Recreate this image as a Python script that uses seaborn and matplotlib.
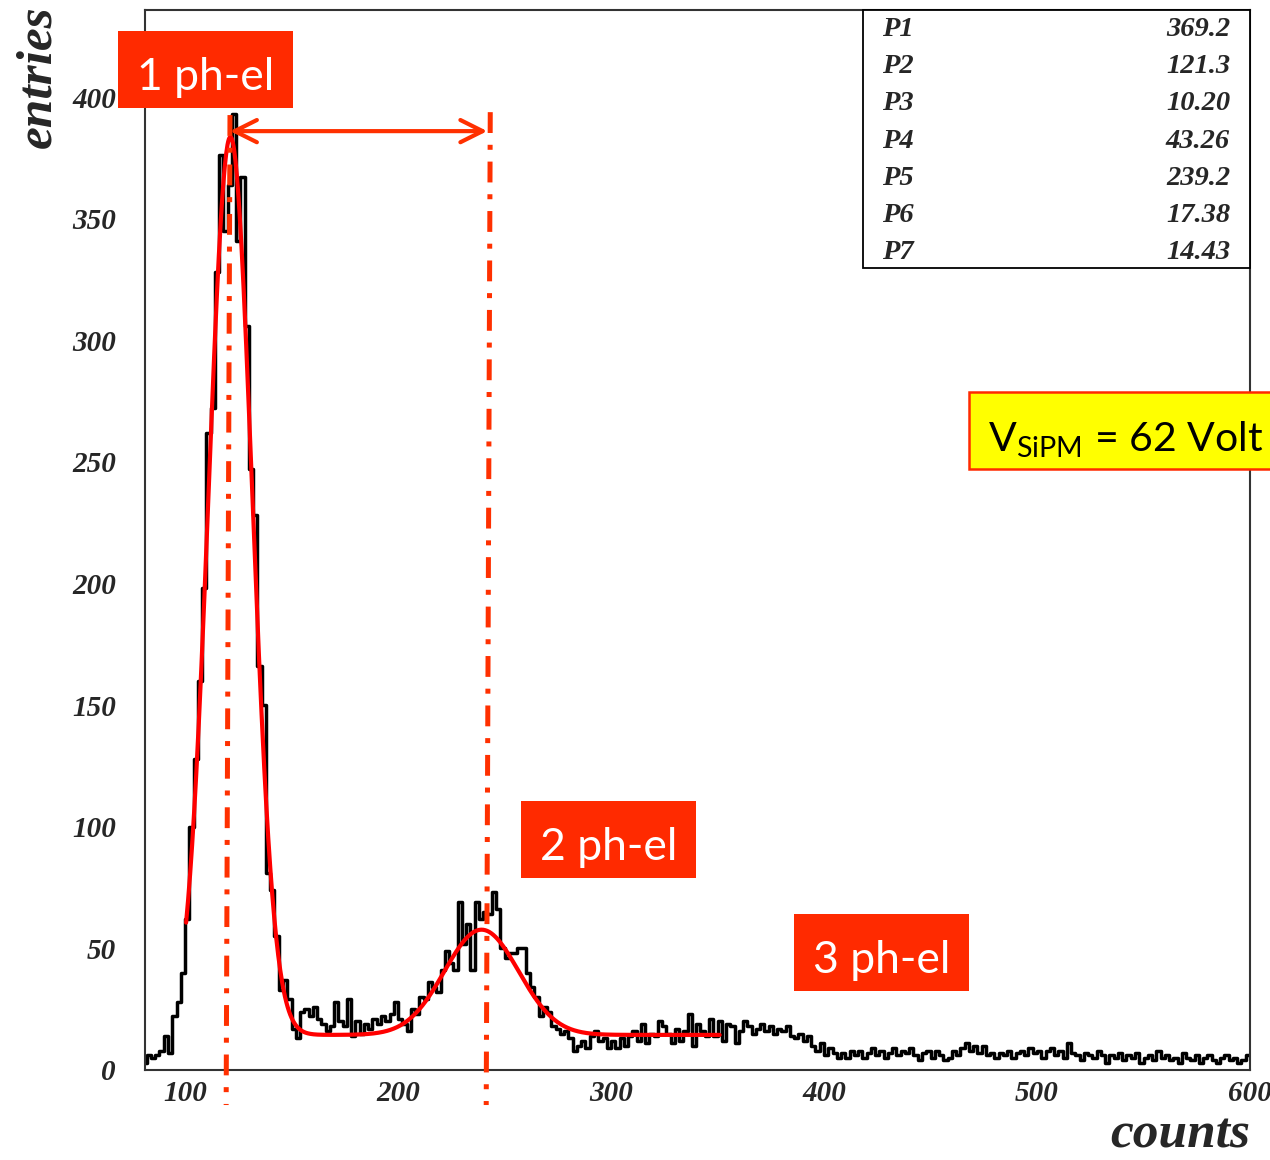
import numpy as np
import pandas as pd
import matplotlib
matplotlib.use("Agg")
import matplotlib.pyplot as plt
from matplotlib.patches import Rectangle, FancyArrowPatch
from matplotlib.font_manager import FontProperties
import seaborn as sns

# ---------------- data ----------------
bin_start = 80
bin_width = 2
counts_per_bin = [
    3, 6, 5, 6, 8, 14, 7, 22, 28, 40,
    62, 100, 128, 160, 198, 262, 272, 328, 376, 345,
    364, 393, 341, 367, 306, 247, 228, 166, 150, 81,
    74, 55, 33, 37, 29, 17, 13, 24, 25, 22,
    26, 21, 19, 16, 18, 28, 20, 18, 29, 14,
    20, 15, 19, 17, 21, 19, 22, 20, 23, 28,
    21, 19, 16, 25, 23, 30, 29, 36, 34, 32,
    41, 49, 44, 41, 69, 52, 60, 41, 69, 62,
    65, 64, 73, 66, 50, 46, 48, 48, 50, 50,
    40, 34, 30, 22, 26, 24, 18, 17, 15, 16,
    13, 8, 10, 12, 9, 14, 16, 12, 13, 9,
    12, 9, 13, 10, 14, 16, 12, 19, 11, 15,
    14, 20, 18, 15, 11, 17, 12, 16, 23, 10,
    19, 16, 14, 21, 14, 20, 12, 19, 18, 11,
    16, 20, 18, 15, 17, 19, 16, 18, 15, 17,
    16, 18, 14, 13, 15, 12, 14, 10, 8, 11,
    6, 9, 7, 5, 7, 5, 8, 6, 8, 5,
    7, 9, 6, 8, 5, 7, 9, 6, 8, 7,
    9, 6, 4, 7, 8, 5, 8, 6, 4, 5,
    8, 6, 9, 11, 8, 10, 7, 10, 6, 7,
    5, 7, 6, 8, 5, 7, 8, 6, 9, 7,
    8, 5, 8, 9, 6, 8, 5, 11, 7, 6,
    4, 7, 6, 5, 8, 6, 3, 6, 5, 7,
    4, 6, 5, 7, 3, 5, 6, 4, 8, 5,
    6, 4, 5, 3, 7, 5, 4, 6, 3, 5,
    6, 4, 3, 5, 6, 4, 5, 3, 4, 6,
]
param_names = ["P1", "P2", "P3", "P4", "P5", "P6", "P7"]
param_values = [369.2, 121.3, 10.20, 43.26, 239.2, 17.38, 14.43]
param_texts = ["369.2", "121.3", "10.20", "43.26", "239.2", "17.38", "14.43"]
fit_range = [100.5, 351.0]
x_major = [100, 200, 300, 400, 500, 600]
y_major = [0, 50, 100, 150, 200, 250, 300, 350, 400]
x_limits = [81.2, 600]
y_limits = [0, 435.8]
marker_top_x = [121.1, 243.3]
marker_bottom_x = [119.3, 241.4]
marker_top_y = [392.6, 393.8]
marker_bottom_y = -14.4
arrow_x = [121.1, 241.9]
arrow_y = 386
peak_labels = ["1 ph-el", "2 ph-el", "3 ph-el"]

# ---------------- figure ----------------
sns.set_style("white")
plt.rcParams["lines.scale_dashes"] = False
plt.rcParams["mathtext.fontset"] = "custom"
plt.rcParams["mathtext.rm"] = "Lato"

W, H = 1270, 1160
fig = plt.figure(figsize=(12.7, 11.6), dpi=100)
ax = fig.add_axes([145 / W, 90 / H, 1105 / W, 1060 / H])

n_bins = len(counts_per_bin)
edges = [float(bin_start + bin_width * k) for k in range(n_bins + 1)]
centers = [e + bin_width / 2 for e in edges[:-1]]
df = pd.DataFrame({"x": centers, "w": counts_per_bin})
sns.histplot(data=df, x="x", weights="w", bins=edges, element="step",
             fill=False, color="black", linewidth=2.5, ax=ax, zorder=2)

# fit curve from the fitted parameters
p1, p2, p3, p4, p5, p6, p7 = param_values
xs = np.linspace(fit_range[0], fit_range[1], 800)
ys = (p1 * np.exp(-0.5 * ((xs - p2) / p3) ** 2)
      + p4 * np.exp(-0.5 * ((xs - p5) / p6) ** 2) + p7)
sns.lineplot(x=xs, y=ys, color="#ff0000", linewidth=3.0, ax=ax, zorder=3)

ax.set_xlim(*x_limits)
ax.set_ylim(*y_limits)
ax.set_xlabel("")
ax.set_ylabel("")
ax.set_xticks(x_major)
ax.set_yticks(y_major)
ax.set_xticks(np.arange(100, 601, 20), minor=True)
ax.set_yticks(np.arange(0, 431, 10), minor=True)
ax.tick_params(which="both", direction="in", top=False, right=False,
               color="#333333", width=1.2)
ax.tick_params(which="major", length=15)
ax.tick_params(which="minor", length=8)
ax.tick_params(axis="y", which="major", pad=21)
ax.tick_params(axis="x", which="major", pad=7)
tick_fp = FontProperties(family="Liberation Serif", weight="bold",
                         style="italic", size=21)
for lab in ax.get_xticklabels() + ax.get_yticklabels():
    lab.set_fontproperties(tick_fp)
for sp in ax.spines.values():
    sp.set_color("#333333")
    sp.set_linewidth(1.5)

# axis titles
title_fp = FontProperties(family="Liberation Serif", weight="bold",
                          style="italic", size=37)
fig.text(50 / W, 1 - 5 / H, "entries", rotation=90, rotation_mode="anchor",
         ha="right", va="baseline", fontproperties=title_fp)
fig.text(1250 / W, 1 - 1148 / H, "counts", ha="right", va="baseline",
         fontproperties=title_fp)

# peak marker lines and arrow
mark_color = "#ff3000"
for xt, xb, yt in zip(marker_top_x, marker_bottom_x, marker_top_y):
    ax.plot([xt, xb], [yt, marker_bottom_y], color=mark_color, linewidth=3.6,
            dashes=(15, 8.5, 3.6, 8.5), clip_on=False, zorder=5)
arr = FancyArrowPatch((arrow_x[0], arrow_y), (arrow_x[1], arrow_y),
                      arrowstyle="<->,head_length=0.8,head_width=0.4",
                      mutation_scale=20, color=mark_color, linewidth=3.0,
                      shrinkA=0, shrinkB=0, zorder=6, clip_on=False)
ax.add_patch(arr)

# stats box
fig.add_artist(Rectangle((863 / W, 1 - 268 / H), 387 / W, 258 / H,
                         transform=fig.transFigure, facecolor="white",
                         edgecolor="black", linewidth=1.3, zorder=5))
stat_fp = FontProperties(family="Liberation Serif", weight="bold",
                         style="italic", size=20.5)
for i, (nm, tx) in enumerate(zip(param_names, param_texts)):
    yb = 1 - (36 + i * 37.2) / H
    fig.text(882 / W, yb, nm, ha="left", va="baseline",
             fontproperties=stat_fp, zorder=6)
    fig.text(1230 / W, yb, tx, ha="right", va="baseline",
             fontproperties=stat_fp, zorder=6)

# label boxes
box_red = "#ff2a00"
label_boxes = [(118, 31, 175, 77), (521, 801, 175, 77), (794, 914, 175, 77)]
for (bx, by, bw, bh), txt in zip(label_boxes, peak_labels):
    fig.add_artist(Rectangle((bx / W, 1 - (by + bh) / H), bw / W, bh / H,
                             transform=fig.transFigure, facecolor=box_red,
                             edgecolor="none", zorder=7))
    fig.text((bx + bw / 2) / W, 1 - (by + 59) / H, txt, ha="center",
             va="baseline", color="white", family="Lato", size=32, zorder=8)

fig.add_artist(Rectangle((969 / W, 1 - 469 / H), 320 / W, 77 / H,
                         transform=fig.transFigure, facecolor="#ffff00",
                         edgecolor="#ff2a00", linewidth=1.8, zorder=7))
fig.text(988 / W, 1 - 451 / H, r"V$_{\mathrm{SiPM}}$ = 62 Volt", ha="left",
         va="baseline", color="black", family="Lato", size=29.5, zorder=8)

fig.savefig("out.png", dpi=100, facecolor="white")
